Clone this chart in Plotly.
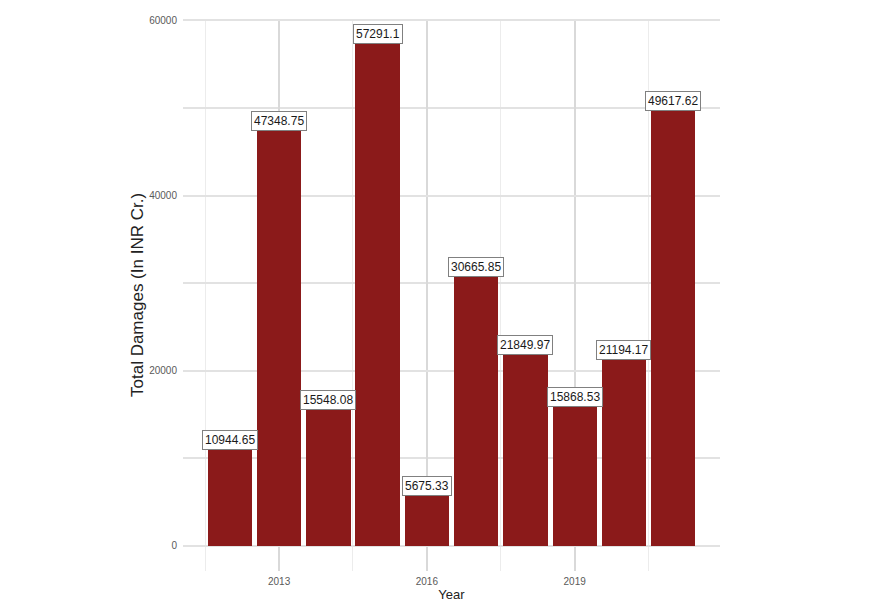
import plotly.graph_objects as go

years = [2012, 2013, 2014, 2015, 2016, 2017, 2018, 2019, 2020, 2021]
damages = [10944.65, 47348.75, 15548.08, 57291.1, 5675.33, 30665.85, 21849.97, 15868.53, 21194.17, 49617.62]
labels = ["10944.65", "47348.75", "15548.08", "57291.1", "5675.33", "30665.85", "21849.97", "15868.53", "21194.17", "49617.62"]
x_ticks = [2013, 2016, 2019]
y_ticks = [0, 20000, 40000, 60000]

fig = go.Figure()
fig.add_trace(go.Bar(x=years, y=damages, width=0.9, marker=dict(color="#8B1A1A", line=dict(width=0)),
                     hoverinfo="x+y"))

for yr, v, t in zip(years, damages, labels):
    fig.add_annotation(x=yr, y=v, text=t, showarrow=False, yanchor="bottom", xanchor="center",
                       bgcolor="white", bordercolor="#808080", borderwidth=1, borderpad=2,
                       font=dict(family="Liberation Sans, Arial", size=12, color="#1a1a1a"))

fig.add_annotation(xref="paper", yref="paper", x=0, y=0.5, xshift=-46, text="Total Damages (In INR Cr.)",
                   textangle=-90, showarrow=False, xanchor="center", yanchor="middle",
                   font=dict(family="Liberation Sans, Arial", size=17, color="#222222"))

fig.update_layout(
    width=870, height=614, margin=dict(l=183, r=150, t=19, b=43),
    plot_bgcolor="white", paper_bgcolor="white", showlegend=False,
    xaxis=dict(range=[2011.05, 2021.95], tickvals=x_ticks, ticktext=[str(v) for v in x_ticks],
               showgrid=True, gridcolor="#d9d9d9", gridwidth=2,
               minor=dict(tickvals=[2011.5, 2014.5, 2017.5, 2020.5], showgrid=True, gridcolor="#ececec", gridwidth=1),
               zeroline=False, showline=False, ticks="", ticklabelstandoff=3,
               tickfont=dict(family="Liberation Sans, Arial", size=10, color="#5a5a5a"),
               title=dict(text="Year", font=dict(family="Liberation Sans, Arial", size=13, color="#222222"), standoff=2)),
    yaxis=dict(range=[-2864, 60155], tickvals=y_ticks, ticktext=[str(v) for v in y_ticks],
               showgrid=True, gridcolor="#e2e2e2", gridwidth=1.5,
               minor=dict(tickvals=[10000, 30000, 50000], showgrid=True, gridcolor="#e2e2e2", gridwidth=1.5),
               zeroline=False, showline=False, ticks="", ticklabelstandoff=5,
               tickfont=dict(family="Liberation Sans, Arial", size=10, color="#5a5a5a")),
    bargap=0,
)

fig.write_html("out.html")
